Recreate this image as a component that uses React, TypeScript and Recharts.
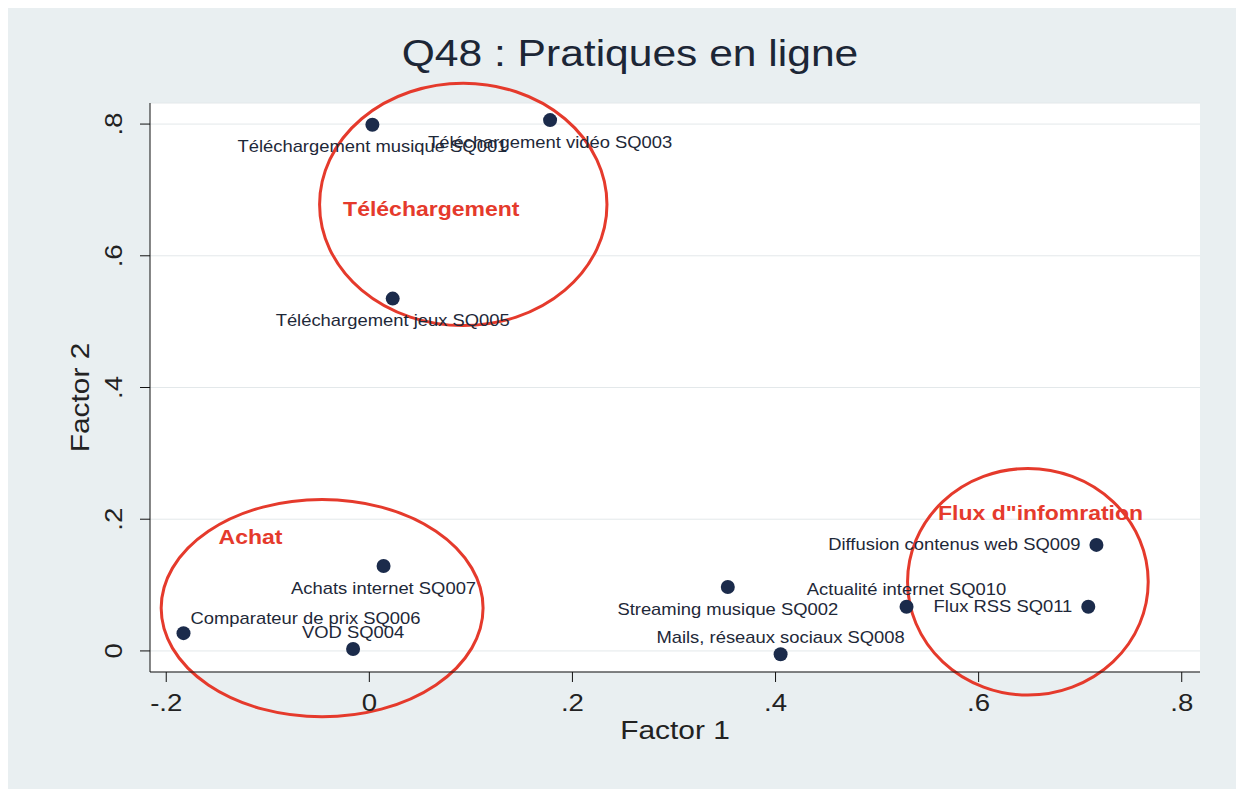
import React from 'react';
import {
  ScatterChart, Scatter, XAxis, YAxis, CartesianGrid, ReferenceArea, ReferenceDot,
} from 'recharts';

const ITEMS = [
  'Téléchargement musique SQ001',
  'Téléchargement vidéo SQ003',
  'Téléchargement jeux SQ005',
  'Achats internet SQ007',
  'Comparateur de prix SQ006',
  'VOD SQ004',
  'Streaming musique SQ002',
  'Mails, réseaux sociaux SQ008',
  'Actualité internet SQ010',
  'Flux RSS SQ011',
  'Diffusion contenus web SQ009',
];
const FACTOR1 = [0.003, 0.178, 0.023, 0.014, -0.183, -0.016, 0.353, 0.405, 0.529, 0.708, 0.716];
const FACTOR2 = [0.799, 0.806, 0.535, 0.129, 0.027, 0.003, 0.097, -0.005, 0.067, 0.067, 0.161];
// where each marker label sits relative to its dot
const LABEL_POS = ['below', 'below', 'below', 'below', 'aboveRight', 'above', 'below', 'above', 'above', 'left', 'left'];

const X_TICKS = [-0.2, 0, 0.2, 0.4, 0.6, 0.8];
const Y_TICKS = [0, 0.2, 0.4, 0.6, 0.8];

// hand-drawn groupings: name, x range, y range, label anchor
const GROUPS = ['Téléchargement', 'Achat', "Flux d\"infomration"];
const GROUP_X = [[-0.049, 0.234], [-0.205, 0.112], [0.530, 0.767]];
const GROUP_Y = [[0.494, 0.862], [-0.100, 0.230], [-0.067, 0.277]];
const GROUP_LABEL_X = [0.061, -0.117, 0.661];
const GROUP_LABEL_Y = [0.671, 0.173, 0.209];

const data = ITEMS.map((name, i) => ({ name, x: FACTOR1[i], y: FACTOR2[i], pos: LABEL_POS[i] }));

const fmt = (v: number) => {
  if (v === 0) return '0';
  const s = v.toFixed(1);
  return s.replace(/^(-?)0\./, '$1.');
};

const NAVY = '#1b2b4b';
const RED = '#e53a2c';
const FONT = '"Liberation Sans", Arial, sans-serif';
const SX = 1.15; // the source image is a bit wide

// text slightly stretched horizontally, like the original export
function WideText({ x, y, anchor = 'middle', rotate = 0, children, ...rest }: any) {
  return (
    <text x={0} y={0} textAnchor={anchor} dominantBaseline="central" fontFamily={FONT}
      transform={`translate(${x},${y}) rotate(${rotate}) scale(${SX},1)`} {...rest}>
      {children}
    </text>
  );
}

function Dot(props: any) {
  const { cx, cy, payload } = props;
  let tx = cx, ty = cy, anchor = 'middle';
  if (payload.pos === 'below') ty = cy + 22;
  else if (payload.pos === 'above') ty = cy - 17;
  else if (payload.pos === 'aboveRight') { tx = cx + 7; ty = cy - 15; anchor = 'start'; }
  else if (payload.pos === 'left') { tx = cx - 16; anchor = 'end'; }
  return (
    <g>
      <circle cx={cx} cy={cy} r={7} fill={NAVY} />
      <WideText x={tx} y={ty} anchor={anchor} fontSize={16} fill="#1e2838">{payload.name}</WideText>
    </g>
  );
}

function YTick(props: any) {
  const { x, y, payload } = props;
  return (
    <WideText x={x - 24} y={y} rotate={-90} fontSize={24} fill="#222">{fmt(payload.value)}</WideText>
  );
}

function XTick(props: any) {
  const { x, y, payload } = props;
  return (
    <WideText x={x} y={y + 19} fontSize={24} fill="#222">{fmt(payload.value)}</WideText>
  );
}

function Ellipse(props: any) {
  const { x, y, width, height } = props;
  return (
    <ellipse cx={x + width / 2} cy={y + height / 2} rx={Math.abs(width) / 2} ry={Math.abs(height) / 2}
      fill="none" stroke={RED} strokeWidth={3} />
  );
}

export default function App() {
  return (
    <div style={{ position: 'relative', width: 1236, height: 781, background: '#e9eff1', fontFamily: FONT }}>
      <div style={{
        position: 'absolute', top: 26, left: 0, width: 1244, textAlign: 'center',
        fontSize: 37, color: '#1c2636', lineHeight: '40px', transform: `scaleX(${SX})`,
      }}>
        Q48 : Pratiques en ligne
      </div>
      <ScatterChart width={1236} height={781} margin={{ top: 95, right: 44, bottom: 42, left: 62 }}
        style={{ position: 'absolute', top: 0, left: 0 }}>
        <CartesianGrid vertical={false} stroke="#e3e8ea" fill="#ffffff" />
        <XAxis type="number" dataKey="x" domain={[-0.216, 0.818]} ticks={X_TICKS}
          allowDataOverflow tick={<XTick />} tickSize={10} height={75}
          stroke="#111" tickLine={{ stroke: '#111' }}
          label={{
            content: ({ viewBox }: any) => (
              <WideText x={viewBox.x + viewBox.width / 2} y={viewBox.y + 58} fontSize={26} fill="#222">
                Factor 1
              </WideText>
            ),
          }} />
        <YAxis type="number" dataKey="y" domain={[-0.032, 0.832]} ticks={Y_TICKS}
          allowDataOverflow tick={<YTick />} tickSize={10} width={80}
          stroke="#111" tickLine={{ stroke: '#111' }}
          label={{
            content: ({ viewBox }: any) => (
              <WideText x={viewBox.x + 10} y={viewBox.y + viewBox.height / 2 + 10} rotate={-90}
                fontSize={26} fill="#222">Factor 2</WideText>
            ),
          }} />
        <Scatter data={data} shape={<Dot />} isAnimationActive={false} />
        {GROUPS.map((g, i) => (
          <ReferenceArea key={g} x1={GROUP_X[i][0]} x2={GROUP_X[i][1]} y1={GROUP_Y[i][0]} y2={GROUP_Y[i][1]}
            ifOverflow="visible" shape={<Ellipse />} />
        ))}
        {GROUPS.map((g, i) => (
          <ReferenceDot key={`l-${g}`} x={GROUP_LABEL_X[i]} y={GROUP_LABEL_Y[i]} ifOverflow="visible"
            shape={(p: any) => (
              <WideText x={p.cx} y={p.cy} fontSize={20} fontWeight="bold" fill={RED}>{g}</WideText>
            )} />
        ))}
      </ScatterChart>
    </div>
  );
}
